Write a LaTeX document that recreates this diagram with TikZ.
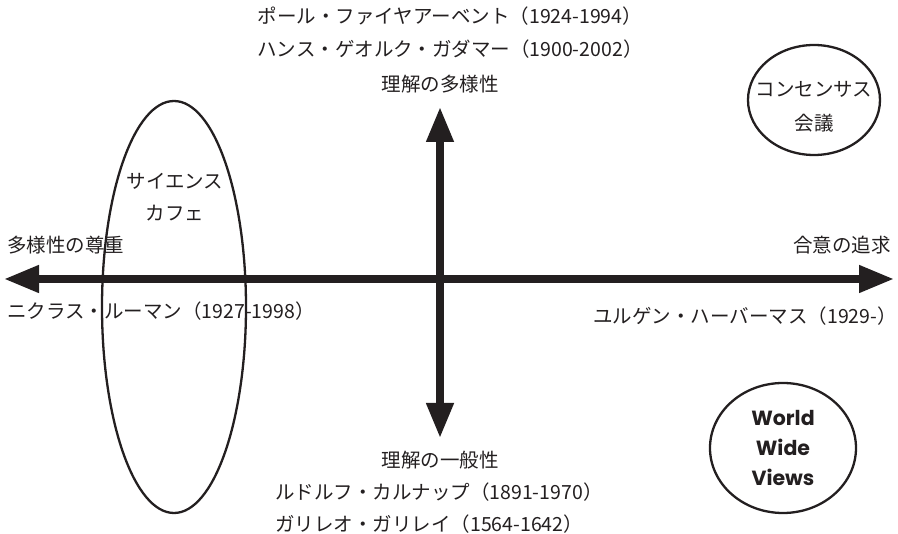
\documentclass[tikz,border=0pt]{standalone}
\usepackage{fontspec}
\newfontfamily\jp{Noto Sans CJK JP}
\newfontfamily\wwv{Poppins}
\usetikzlibrary{arrows.meta}
\tikzset{
  axis/.style={line width=7.5pt, draw={rgb,255:red,35;green,31;blue,32}, {Triangle[length=35pt,width=26pt]}-{Triangle[length=35pt,width=26pt]}},
  lbl/.style={font=\jp\fontsize{19.5}{21}\selectfont, text={rgb,255:red,35;green,31;blue,32}, inner sep=0pt},
  ring/.style={draw={rgb,255:red,35;green,31;blue,32}, line width=2.3pt},
}
\begin{document}
\begin{tikzpicture}[x=1pt,y=-1pt]
\useasboundingbox (0,0) rectangle (898,534);
% axes
\coordinate (L) at (4,279);
\coordinate (R) at (894,279);
\coordinate (T) at (440,107);
\coordinate (B) at (440,438);
\draw[axis] (L) -- (R);
\draw[axis] (T) -- (B);
% ellipse and circles
\draw[ring] (174,307) ellipse [x radius=72, y radius=206];
\node[lbl] (sc1) at (175,181) {サイエンス};
\node[lbl] (sc2) at (175,213) {カフェ};
\draw[ring] (814,100) ellipse [x radius=66, y radius=55];
\node[lbl] (cc1) at (814,89) {コンセンサス};
\node[lbl] (cc2) at (814,123) {会議};
\draw[ring] (783,448) ellipse [x radius=73, y radius=65];
\node[font=\wwv\bfseries\fontsize{20.5}{30}\selectfont, align=center, inner sep=0pt, text={rgb,255:red,35;green,31;blue,32}] (wwv) at (783,448) {World\\Wide\\Views};
% top labels
\node[lbl] (t1) at (450,16) {ポール・ファイヤアーベント（1924-1994）};
\node[lbl] (t2) at (450,49) {ハンス・ゲオルク・ガダマー（1900-2002）};
\node[lbl] (t3) at (440,84) {理解の多様性};
% left / right labels
\node[lbl, anchor=west] (l1) at (7,245) {多様性の尊重};
\node[lbl, anchor=west] (l2) at (7,311) {ニクラス・ルーマン（1927-1998）};
\node[lbl, anchor=east] (r1) at (891,245) {合意の追求};
\node[lbl, anchor=east] (r2) at (897,316) {ユルゲン・ハーバーマス（1929-）};
% bottom labels
\node[lbl] (b1) at (440,460) {理解の一般性};
\node[lbl, anchor=west] (b2) at (275,492) {ルドルフ・カルナップ（1891-1970）};
\node[lbl, anchor=west] (b3) at (275,524) {ガリレオ・ガリレイ（1564-1642）};
\end{tikzpicture}
\end{document}
